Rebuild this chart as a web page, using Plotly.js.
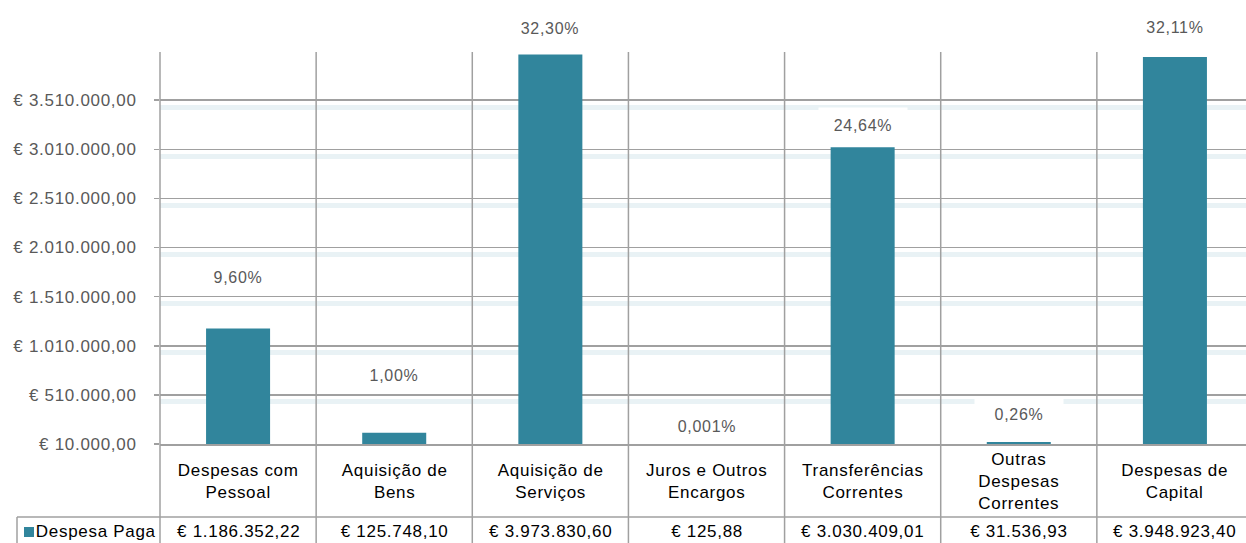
<!DOCTYPE html>
<html>
<head>
<meta charset="utf-8">
<script src="https://cdn.plot.ly/plotly-3.0.1.min.js"></script>
<style>
html,body{margin:0;padding:0;overflow:hidden;background:#fff;}
#chart{width:1256px;height:543px;}
#chart text{letter-spacing:0.7px;}
</style>
</head>
<body>
<div id="chart"></div>
<script>
// ---- data ----
const categories = ['Despesas com<br>Pessoal', 'Aquisição de<br>Bens', 'Aquisição de<br>Serviços',
  'Juros e Outros<br>Encargos', 'Transferências<br>Correntes', 'Outras<br>Despesas<br>Correntes', 'Despesas de<br>Capital'];
const despesaPaga = [1186352.22, 125748.10, 3973830.60, 125.88, 3030409.01, 31536.93, 3948923.40];
const shareLabels = ['9,60%', '1,00%', '32,30%', '0,001%', '24,64%', '0,26%', '32,11%'];
const seriesName = 'Despesa Paga';

// ---- style / layout settings ----
const labelShiftPx = [51, 58, 27, 18, 22, 28, 30];
const yMin = 10000, yMax = 4000000;
const W = 1256, H = 543, mL = 160, mR = 3, mT = 52, mB = 99;
const plotW = W - mL - mR, plotH = H - mT - mB;
const barColor = '#31859c';
const lineColor = '#a0a0a0';
const font = 'Liberation Sans, Arial, sans-serif';

function fmtEuro(v) {
  const parts = v.toFixed(2).split('.');
  const intPart = parts[0].replace(/\B(?=(\d{3})+(?!\d))/g, '.');
  return '€ ' + intPart + ',' + parts[1];
}
const px2py = p => ((H - mB) - p) / plotH;   // pixel row -> paper y
const px2px = p => (p - mL) / plotW;         // pixel col -> paper x

const n = categories.length;
const xs = categories.map((_, i) => i);

// bars start at the axis minimum (yMin)
const trace = {
  type: 'bar',
  x: xs,
  y: despesaPaga.map(v => Math.max(v - yMin, 0)),
  name: seriesName,
  width: 0.41,
  marker: {color: barColor, line: {width: 0}},
  hoverinfo: 'skip',
  showlegend: false
};

const shapes = [];
// column boundaries
for (let i = 0; i <= n; i++) {
  shapes.push({type: 'line', xref: 'paper', yref: 'paper', x0: i / n, x1: i / n,
    y0: px2py(H + 2), y1: 1, line: {color: lineColor, width: 1.5}});
}
// table row line + legend cell
shapes.push({type: 'line', xref: 'paper', yref: 'paper', x0: px2px(17), x1: 1.01,
  y0: px2py(517), y1: px2py(517), line: {color: lineColor, width: 1.5}});
shapes.push({type: 'line', xref: 'paper', yref: 'paper', x0: px2px(17), x1: px2px(17),
  y0: px2py(517), y1: px2py(H + 2), line: {color: lineColor, width: 1.5}});
shapes.push({type: 'rect', xref: 'paper', yref: 'paper', x0: px2px(24), x1: px2px(34),
  y0: px2py(537), y1: px2py(527), fillcolor: barColor, line: {width: 0}});

const annotations = [];
// percentage labels
despesaPaga.forEach((v, i) => {
  annotations.push({
    x: i, y: Math.max(v - yMin, 0), xref: 'x', yref: 'y',
    text: shareLabels[i], showarrow: false, yanchor: 'middle', yshift: labelShiftPx[i],
    bgcolor: '#ffffff', width: 84, height: 30, borderpad: 2,
    font: {family: font, size: 16, color: '#595959'}
  });
});
// category labels in table
categories.forEach((c, i) => {
  annotations.push({
    x: (i + 0.5) / n, y: px2py(481), xref: 'paper', yref: 'paper',
    text: c, showarrow: false, xanchor: 'center', yanchor: 'middle',
    font: {family: font, size: 17, color: '#000000'}
  });
});
// value row
despesaPaga.forEach((v, i) => {
  annotations.push({
    x: (i + 0.5) / n, y: px2py(531), xref: 'paper', yref: 'paper',
    text: fmtEuro(v), showarrow: false, xanchor: 'center', yanchor: 'middle',
    font: {family: font, size: 17, color: '#000000'}
  });
});
annotations.push({
  x: px2px(38), y: px2py(531), xref: 'paper', yref: 'paper',
  text: seriesName, showarrow: false, xanchor: 'left', yanchor: 'middle', borderpad: 1,
  font: {family: font, size: 17, color: '#000000'}
});

const ks = [0, 1, 2, 3, 4, 5, 6, 7];
const layout = {
  width: W, height: H,
  margin: {l: mL, r: mR, t: mT, b: mB, pad: 0},
  paper_bgcolor: '#ffffff', plot_bgcolor: '#ffffff',
  showlegend: false,
  xaxis: {
    type: 'linear', range: [-0.5, n - 0.5], showticklabels: false, showgrid: false,
    zeroline: false, showline: true, linecolor: lineColor, linewidth: 1.5, ticks: '', fixedrange: true
  },
  yaxis: {
    range: [0, yMax - yMin], tickmode: 'array',
    tickvals: ks.map(k => k * 500000),
    ticktext: ks.map(k => fmtEuro(yMin + k * 500000)),
    tickfont: {family: font, size: 17, color: '#595959'},
    ticks: 'outside', ticklen: 5, tickcolor: lineColor, tickwidth: 1.5,
    ticklabelstandoff: 14,
    showgrid: true, gridcolor: lineColor, gridwidth: 1.5,
    minor: {tickmode: 'array', tickvals: ks.slice(1).map(k => k * 500000 - 72000),
      showgrid: true, gridcolor: '#e9f2f5', gridwidth: 5, ticks: ''},
    zeroline: false, showline: false, fixedrange: true
  },
  shapes: shapes,
  annotations: annotations
};

Plotly.newPlot('chart', [trace], layout, {displayModeBar: false, staticPlot: true});
</script>
</body>
</html>
